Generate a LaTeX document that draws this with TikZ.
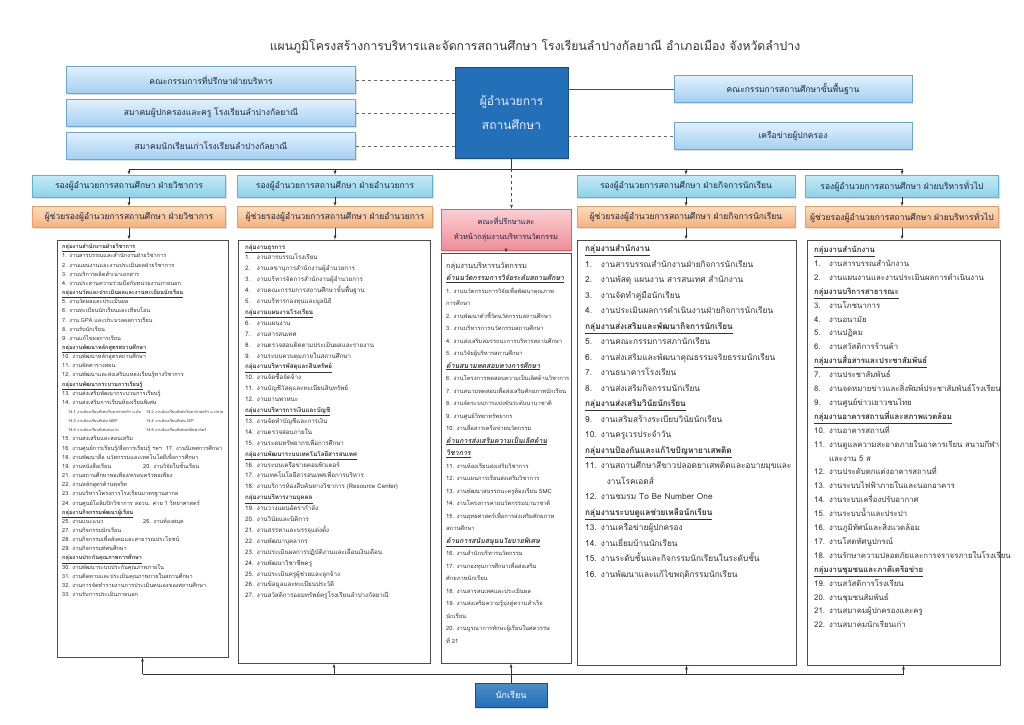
\documentclass[tikz,border=0pt]{standalone}
\usepackage{fontspec}
\setmainfont[Script=Thai]{Loma}
\usetikzlibrary{shadows}
\definecolor{encre}{HTML}{1B2740}
\definecolor{bleuclair}{HTML}{E2F1FC}
\definecolor{bleumoyen}{HTML}{A2D0F1}
\definecolor{bordbleu}{HTML}{6DA6D6}
\definecolor{bleudir}{HTML}{2370B8}
\definecolor{borddir}{HTML}{1A4E88}
\definecolor{cyanhaut}{HTML}{C4EBF6}
\definecolor{cyanbas}{HTML}{8DD2E9}
\definecolor{bordcyan}{HTML}{58B6D3}
\definecolor{orhaut}{HTML}{FCDDBF}
\definecolor{orbas}{HTML}{F6B07A}
\definecolor{bordor}{HTML}{E89E66}
\definecolor{rosehaut}{HTML}{FAD0D3}
\definecolor{rosebas}{HTML}{EF8E97}
\definecolor{bordrose}{HTML}{D06470}
\newcommand{\rubrique}[1]{\textbf{\underline{#1}}}
\newcommand{\tache}[3][1.9em]{\makebox[#1][l]{#2}#3}
\newcommand{\suite}[2][1.9em]{\hspace*{#1}#2}
\newcommand{\deux}[3][81pt]{\makebox[#1][l]{#2}#3}
\newcommand{\petit}{\fontsize{3.9}{9.15}\selectfont}
\newcommand{\sousrub}[1]{{\fontsize{7}{12.5}\selectfont\rubrique{\itshape #1}}}
\begin{document}
\begin{tikzpicture}[x=1pt,y=-1pt,
  ombre/.style={drop shadow={shadow xshift=1.2pt, shadow yshift=-1.5pt, opacity=0.25}},
  haut/.style={rectangle, draw=bordbleu, top color=bleuclair, bottom color=bleumoyen, ombre,
    text=encre, minimum width=289pt, minimum height=27pt, font=\fontsize{8.5}{10}\selectfont},
  dir/.style={rectangle, draw=borddir, fill=bleudir, text=blue!8!white, align=center, ombre,
    minimum width=113pt, minimum height=91pt, font=\fontsize{12}{24}\selectfont},
  adjoint/.style={rectangle, draw=bordcyan, top color=cyanhaut, bottom color=cyanbas, ombre,
    text=encre, minimum height=22pt, font=\fontsize{8.5}{10}\selectfont},
  aide/.style={rectangle, draw=bordor, top color=orhaut, bottom color=orbas, ombre,
    text=encre, minimum height=21pt, font=\fontsize{8.5}{10}\selectfont},
  conseil/.style={rectangle, draw=bordrose, top color=rosehaut, bottom color=rosebas, ombre,
    text=encre, align=center, minimum width=130pt, minimum height=41pt,
    font=\fontsize{7.5}{15}\selectfont},
  cadre/.style={rectangle, draw=black!70, fill=white, thick},
  liste/.style={anchor=north west, inner sep=0pt, align=left, text=black!80, font=#1},
  eleve/.style={rectangle, draw=borddir, top color=bleudir!80!white, bottom color=bleudir, ombre,
    text=white, minimum width=72pt, minimum height=24pt, font=\fontsize{9}{10}\selectfont}]
  % Fond
  \fill[white] (0,0) rectangle (1024,724);
  \useasboundingbox (0,0) rectangle (1024,724);

  % Titre
  \node[text=black!80, font=\fontsize{12.2}{14}\selectfont] (titre) at (535,47)
    {แผนภูมิโครงสร้างการบริหารและจัดการสถานศึกษา โรงเรียนลำปางกัลยาณี อำเภอเมือง จังหวัดลำปาง};

  % Partie haute
  \node[haut] (h1) at (211,80) {คณะกรรมการที่ปรึกษาฝ่ายบริหาร};
  \node[haut] (h2) at (211,113) {สมาคมผู้ปกครองและครู โรงเรียนลำปางกัลยาณี};
  \node[haut] (h3) at (211,146) {สมาคมนักเรียนเก่าโรงเรียนลำปางกัลยาณี};
  \node[dir] (dir) at (511.5,112.5) {ผู้อำนวยการ\\สถานศึกษา};
  \node[haut, minimum width=238pt] (d1) at (793,89) {คณะกรรมการสถานศึกษาขั้นพื้นฐาน};
  \node[haut, minimum width=238pt] (d2) at (793,136) {เครือข่ายผู้ปกครอง};
  \foreach \b in {h1,h2,h3}
    \draw[dashed, black!60] (\b.east) -- (\b.east -| dir.west);
  \draw[black!70] (dir.east |- d1) -- (d1.west);
  \draw[dashed, black!60] (dir.east |- d2) -- (d2.west);

  % Rangee des adjoints
  \node[adjoint, minimum width=193pt] (a1) at (129,186) {รองผู้อำนวยการสถานศึกษา ฝ่ายวิชาการ};
  \node[adjoint, minimum width=195pt] (a2) at (335,186) {รองผู้อำนวยการสถานศึกษา ฝ่ายอำนวยการ};
  \node[adjoint, minimum width=218pt] (a4) at (686,186) {รองผู้อำนวยการสถานศึกษา ฝ่ายกิจการนักเรียน};
  \node[adjoint, minimum width=193pt] (a5) at (902,186) {รองผู้อำนวยการสถานศึกษา ฝ่ายบริหารทั่วไป};
  \node[aide, minimum width=193pt] (o1) at (129,217) {ผู้ช่วยรองผู้อำนวยการสถานศึกษา ฝ่ายวิชาการ};
  \node[aide, minimum width=195pt] (o2) at (335,217) {ผู้ช่วยรองผู้อำนวยการสถานศึกษา ฝ่ายอำนวยการ};
  \node[aide, minimum width=218pt] (o4) at (686,217) {ผู้ช่วยรองผู้อำนวยการสถานศึกษา ฝ่ายกิจการนักเรียน};
  \node[aide, minimum width=193pt] (o5) at (902,217) {ผู้ช่วยรองผู้อำนวยการสถานศึกษา ฝ่ายบริหารทั่วไป};
  \node[conseil] (c3) at (506,229.5) {คณะที่ปรึกษาและ\\หัวหน้ากลุ่มงานบริหารนวัตกรรม};

  % Cadres des listes
  \node[cadre, minimum width=171pt, minimum height=417pt] (l1) at (142.5,448.5) {};
  \node[cadre, minimum width=192pt, minimum height=423pt] (l2) at (334,451.5) {};
  \node[cadre, minimum width=130pt, minimum height=410pt] (l3) at (506,458) {};
  \node[cadre, minimum width=219pt, minimum height=425pt] (l4) at (686.5,452.5) {};
  \node[cadre, minimum width=193pt, minimum height=425pt] (l5) at (903.5,452.5) {};
  \node[eleve] (eleve) at (511,695) {นักเรียน};

  % Liaisons
  \coordinate (bus) at (511.5,169);
  \coordinate (basbus) at (511.5,674);
  \draw[black!80] (dir.south) -- (bus);
  \draw[black!80] (a1.north |- bus) -- (a5.north |- bus);
  \foreach \a/\o/\l in {a1/o1/l1, a2/o2/l2, a4/o4/l4, a5/o5/l5} {
    \draw[->, >=latex, black!80] (\a.north |- bus) -- (\a.north);
    \draw[->, >=latex, black!80] (\a.south) -- (\o.north);
    \draw[->, >=latex, black!80] (\o.south) -- (\o.south |- \l.north);
  }
  \draw[dashed, ->, >=latex, black!70] (bus) -- (bus |- c3.north);
  \draw[->, >=latex, black!80] (c3.south) -- (l3.north);
  \draw[black!80] (l1.south |- basbus) -- (l5.south |- basbus);
  \foreach \l in {l1,l2,l4,l5}
    \draw[->, >=latex, black!80] (\l.south |- basbus) -- (\l.south);
  \draw[->, >=latex, black!80] (eleve.north) -- (eleve.north |- l3.south);

  % Textes des listes
  \node[liste={\fontsize{5.6}{9.15}\selectfont}] (t1) at (62,244) {%
    \rubrique{กลุ่มงานสำนักงานฝ่ายวิชาการ}\\
    1. งานสารบรรณและสำนักงานฝ่ายวิชาการ\\
    2. งานแผนงานและงานประเมินผลฝ่ายวิชาการ\\
    3. งานบริการผลิตสำเนาเอกสาร\\
    4. งานประสานความร่วมมือกับหน่วยงานภายนอก\\
    \rubrique{กลุ่มงานวัดและประเมินผลและงานทะเบียนนักเรียน}\\
    5. งานวัดผลและประเมินผล\\
    6. งานทะเบียนนักเรียนและเทียบโอน\\
    7. งาน GPA และประมวลผลการเรียน\\
    8. งานรับนักเรียน\\
    9. งานแก้ไขผลการเรียน\\
    \rubrique{กลุ่มงานพัฒนาหลักสูตรสถานศึกษา}\\
    10. งานพัฒนาหลักสูตรสถานศึกษา\\
    11. งานจัดตารางสอน\\
    12. งานพัฒนาและส่งเสริมแหล่งเรียนรู้ทางวิชาการ\\
    \rubrique{กลุ่มงานพัฒนากระบวนการเรียนรู้}\\
    13. งานส่งเสริมพัฒนากระบวนการเรียนรู้\\
    14. งานส่งเสริมการเรียนห้องเรียนพิเศษ\\
    {\petit\hspace*{6pt}\deux[78pt]{14.1 งานห้องเรียนพิเศษวิทยาศาสตร์ฯ ม.ต้น}{14.2 งานห้องเรียนพิเศษวิทยาศาสตร์ฯ ม.ปลาย}}\\
    {\petit\hspace*{6pt}\deux[78pt]{14.3 งานห้องเรียนพิเศษ MEP}{14.4 งานห้องเรียนพิเศษ IEP}}\\
    {\petit\hspace*{6pt}\deux[78pt]{14.5 งานห้องเรียนพิเศษคนเก่ง}{14.6 งานห้องเรียนพิเศษคณิตศาสตร์}}\\
    15. งานส่งเสริมและสอนเสริม\\
    16. งานศูนย์การเรียนรู้/สื่อการเรียนรู้ ฯลฯ \ 17. งานนิเทศการศึกษา\\
    18. งานพัฒนาสื่อ นวัตกรรมและเทคโนโลยีเพื่อการศึกษา\\
    \deux{19. งานหนังสือเรียน}{20. งานวิจัยในชั้นเรียน}\\
    21. งานสถานศึกษาพอเพียง/ครอบครัวพอเพียง\\
    22. งานหลักสูตรต้านทุจริต\\
    23. งานบริหารโครงการโรงเรียนมาตรฐานสากล\\
    24. งานศูนย์โอลิมปิกวิชาการ สอวน. ค่าย 1 วิทยาศาสตร์\\
    \rubrique{กลุ่มงานกิจกรรมพัฒนาผู้เรียน}\\
    \deux{25. งานแนะแนว}{26. งานห้องสมุด}\\
    27. งานกิจกรรมนักเรียน\\
    28. งานกิจกรรมเพื่อสังคมและสาธารณประโยชน์\\
    29. งานกิจกรรมทัศนศึกษา\\
    \rubrique{กลุ่มงานประกันคุณภาพการศึกษา}\\
    30. งานพัฒนาระบบประกันคุณภาพภายใน\\
    31. งานติดตามและประเมินคุณภาพภายในสถานศึกษา\\
    32. งานการจัดทำรายงานการประเมินตนเองของสถานศึกษา\\
    33. งานรับการประเมินภายนอก};

  \node[liste={\fontsize{6.2}{10.9}\selectfont}] (t2) at (245,244) {%
    \rubrique{กลุ่มงานธุรการ}\\
    \tache{1.}{งานสารบรรณโรงเรียน}\\
    \tache{2.}{งานเลขานุการสำนักงานผู้อำนวยการ}\\
    \tache{3.}{งานบริหารจัดการสำนักงานผู้อำนวยการ}\\
    \tache{4.}{งานคณะกรรมการสถานศึกษาขั้นพื้นฐาน}\\
    \tache{5.}{งานบริหารกองทุนและมูลนิธิ}\\
    \rubrique{กลุ่มงานแผนงานโรงเรียน}\\
    \tache{6.}{งานแผนงาน}\\
    \tache{7.}{งานสารสนเทศ}\\
    \tache{8.}{งานตรวจสอบติดตามประเมินผลและรายงาน}\\
    \tache{9.}{งานระบบควบคุมภายในสถานศึกษา}\\
    \rubrique{กลุ่มงานบริหารพัสดุและสินทรัพย์}\\
    \tache{10.}{งานจัดซื้อจัดจ้าง}\\
    \tache{11.}{งานบัญชีวัสดุและทะเบียนสินทรัพย์}\\
    \tache{12.}{งานยานพาหนะ}\\
    \rubrique{กลุ่มงานบริหารการเงินและบัญชี}\\
    \tache{13.}{งานจัดทำบัญชีและการเงิน}\\
    \tache{14.}{งานตรวจสอบภายใน}\\
    \tache{15.}{งานระดมทรัพยากรเพื่อการศึกษา}\\
    \rubrique{กลุ่มงานพัฒนาระบบเทคโนโลยีสารสนเทศ}\\
    \tache{16.}{งานระบบเครือข่ายคอมพิวเตอร์}\\
    \tache{17.}{งานเทคโนโลยีสารสนเทศเพื่อการบริหาร}\\
    \tache{18.}{งานบริการห้องสืบค้นทางวิชาการ (Resource Center)}\\
    \rubrique{กลุ่มงานบริหารงานบุคคล}\\
    \tache{19.}{งานวางแผนอัตรากำลัง}\\
    \tache{20.}{งานวินัยและนิติการ}\\
    \tache{21.}{งานสรรหาและบรรจุแต่งตั้ง}\\
    \tache{22.}{งานพัฒนาบุคลากร}\\
    \tache{23.}{งานประเมินผลการปฏิบัติงานและเลื่อนเงินเดือน}\\
    \tache{24.}{งานพัฒนาวิชาชีพครู}\\
    \tache{25.}{งานประเมินครูผู้ช่วยและลูกจ้าง}\\
    \tache{26.}{งานข้อมูลและทะเบียนประวัติ}\\
    \tache{27.}{งานสวัสดิการออมทรัพย์ครูโรงเรียนลำปางกัลยาณี}};

  \node[liste={\fontsize{5.8}{12.5}\selectfont}] (t3) at (446,262) {%
    {\fontsize{7.5}{12.5}\selectfont กลุ่มงานบริหารนวัตกรรม}\\
    \sousrub{ด้านนวัตกรรมการวิจัยระดับสถานศึกษา}\\
    1. งานนวัตกรรมการวิจัยเพื่อพัฒนาคุณภาพ\\
    การศึกษา\\
    2. งานพัฒนาตัวชี้วัดนวัตกรรมสถานศึกษา\\
    3. งานบริหารการนวัตกรรมสถานศึกษา\\
    4. งานส่งเสริมสมรรถนะการบริหารสถานศึกษา\\
    5. งานวิจัยผู้บริหารสถานศึกษา\\
    \sousrub{ด้านสนามทดสอบทางการศึกษา}\\
    6. งานโครงการทดสอบความเป็นเลิศด้านวิชาการ\\
    7. งานสนามทดสอบเพื่อส่งเสริมศักยภาพนักเรียน\\
    8. งานจัดระบบการแข่งขันระดับนานาชาติ\\
    9. งานศูนย์วิทยาทรัพยากร\\
    10. งานสื่อสารเครือข่ายนวัตกรรม\\
    \sousrub{ด้านการส่งเสริมความเป็นเลิศด้าน}\\
    \sousrub{วิชาการ}\\
    11. งานห้องเรียนส่งเสริมวิชาการ\\
    12. งานแผนการเรียนส่งเสริมวิชาการ\\
    13. งานพัฒนาสมรรถนะครูห้องเรียน SMC\\
    14. งานโครงการค่ายนวัตกรรมนานาชาติ\\
    15. งานยุทธศาสตร์เพื่อการส่งเสริมศักยภาพ\\
    สถานศึกษา\\
    \sousrub{ด้านการสนับสนุนนโยบายพิเศษ}\\
    16. งานสำนักบริหารนวัตกรรม\\
    17. งานกองทุนการศึกษาเพื่อส่งเสริม\\
    ศักยภาพนักเรียน\\
    18. งานสารสนเทศและประเมินผล\\
    19. งานส่งเสริมความรู้มุ่งสู่ความสำเร็จ\\
    นักเรียน\\
    20. งานบูรณาการทักษะผู้เรียนในศตวรรษ\\
    ที่ 21};

  \node[liste={\fontsize{8.3}{15.5}\selectfont}] (t4) at (585,245) {%
    \rubrique{กลุ่มงานสำนักงาน}\\
    \tache{1.}{งานสารบรรณสำนักงานฝ่ายกิจการนักเรียน}\\
    \tache{2.}{งานพัสดุ แผนงาน สารสนเทศ สำนักงาน}\\
    \tache{3.}{งานจัดทำคู่มือนักเรียน}\\
    \tache{4.}{งานประเมินผลการดำเนินงานฝ่ายกิจการนักเรียน}\\
    \rubrique{กลุ่มงานส่งเสริมและพัฒนากิจการนักเรียน}\\
    \tache{5.}{งานคณะกรรมการสภานักเรียน}\\
    \tache{6.}{งานส่งเสริมและพัฒนาคุณธรรมจริยธรรมนักเรียน}\\
    \tache{7.}{งานธนาคารโรงเรียน}\\
    \tache{8.}{งานส่งเสริมกิจกรรมนักเรียน}\\
    \rubrique{กลุ่มงานส่งเสริมวินัยนักเรียน}\\
    \tache{9.}{งานเสริมสร้างระเบียบวินัยนักเรียน}\\
    \tache{10.}{งานครูเวรประจำวัน}\\
    \rubrique{กลุ่มงานป้องกันและแก้ไขปัญหายาเสพติด}\\
    \tache{11.}{งานสถานศึกษาสีขาวปลอดยาเสพติดและอบายมุขและ}\\
    \suite[2.6em]{งานโรคเอดส์}\\
    \tache{12.}{งานชมรม To Be Number One}\\
    \rubrique{กลุ่มงานระบบดูแลช่วยเหลือนักเรียน}\\
    \tache{13.}{งานเครือข่ายผู้ปกครอง}\\
    \tache{14.}{งานเยี่ยมบ้านนักเรียน}\\
    \tache{15.}{งานระดับชั้นและกิจกรรมนักเรียนในระดับชั้น}\\
    \tache{16.}{งานพัฒนาและแก้ไขพฤติกรรมนักเรียน}};

  \node[liste={\fontsize{7.8}{13.9}\selectfont}] (t5) at (814,246) {%
    \rubrique{กลุ่มงานสำนักงาน}\\
    \tache{1.}{งานสารบรรณสำนักงาน}\\
    \tache{2.}{งานแผนงานและงานประเมินผลการดำเนินงาน}\\
    \rubrique{กลุ่มงานบริการสาธารณะ}\\
    \tache{3.}{งานโภชนาการ}\\
    \tache{4.}{งานอนามัย}\\
    \tache{5.}{งานปฏิคม}\\
    \tache{6.}{งานสวัสดิการร้านค้า}\\
    \rubrique{กลุ่มงานสื่อสารและประชาสัมพันธ์}\\
    \tache{7.}{งานประชาสัมพันธ์}\\
    \tache{8.}{งานจดหมายข่าวและสิ่งพิมพ์ประชาสัมพันธ์โรงเรียน}\\
    \tache{9.}{งานศูนย์ข่าวเยาวชนไทย}\\
    \rubrique{กลุ่มงานอาคารสถานที่และสภาพแวดล้อม}\\
    \tache{10.}{งานอาคารสถานที่}\\
    \tache{11.}{งานดูแลความสะอาดภายในอาคารเรียน สนามกีฬา}\\
    \suite{และงาน 5 ส}\\
    \tache{12.}{งานประดับตกแต่งอาคารสถานที่}\\
    \tache{13.}{งานระบบไฟฟ้าภายในและนอกอาคาร}\\
    \tache{14.}{งานระบบเครื่องปรับอากาศ}\\
    \tache{15.}{งานระบบน้ำและประปา}\\
    \tache{16.}{งานภูมิทัศน์และสิ่งแวดล้อม}\\
    \tache{17.}{งานโสตทัศนูปกรณ์}\\
    \tache{18.}{งานรักษาความปลอดภัยและการจราจรภายในโรงเรียน}\\
    \rubrique{กลุ่มงานชุมชนและภาคีเครือข่าย}\\
    \tache{19.}{งานสวัสดิการโรงเรียน}\\
    \tache{20.}{งานชุมชนสัมพันธ์}\\
    \tache{21.}{งานสมาคมผู้ปกครองและครู}\\
    \tache{22.}{งานสมาคมนักเรียนเก่า}};
\end{tikzpicture}
\end{document}
